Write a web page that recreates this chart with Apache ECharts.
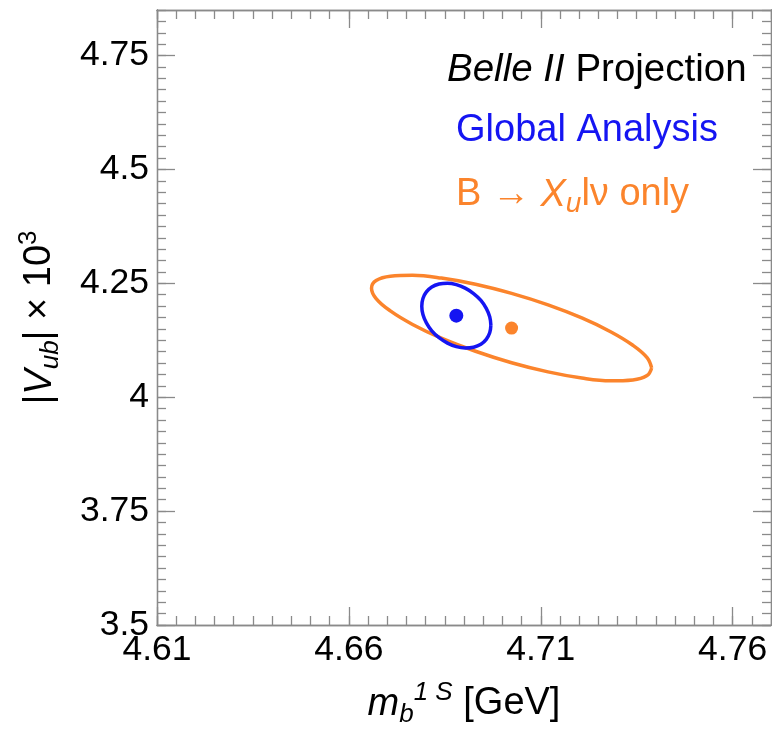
<!DOCTYPE html>
<html><head><meta charset="utf-8">
<script src="https://cdn.jsdelivr.net/npm/echarts@6/dist/echarts.min.js"></script>
<style>html,body{margin:0;padding:0;background:#fff}#c{width:772px;height:734px}</style>
</head><body><div id="c"></div>
<script>
// ---- data ----
const xRange = [4.61, 4.77];
const yRange = [3.5, 4.85];
const xTicks = [4.61, 4.66, 4.71, 4.76];
const yTicks = [3.5, 3.75, 4.0, 4.25, 4.5, 4.75];
const xMinorStep = 0.005;
const yMinorStep = 0.025;

const globalCenter = [4.6880, 4.1791];
const xulvCenter = [4.7024, 4.1518];

const globalContourX = [4.6970,4.6967,4.6958,4.6944,4.6925,4.6903,4.6880,4.6857,4.6835,4.6816,4.6802,4.6793,4.6790,4.6793,4.6802,4.6816,4.6835,4.6857,4.6880,4.6903,4.6925,4.6944,4.6958,4.6967];
const globalContourY = [4.1583,4.1414,4.1271,4.1163,4.1098,4.1080,4.1111,4.1188,4.1306,4.1457,4.1631,4.1816,4.1999,4.2168,4.2311,4.2419,4.2484,4.2502,4.2471,4.2394,4.2276,4.2125,4.1951,4.1766];

const xulvContourX = [4.7389,4.7377,4.7340,4.7282,4.7207,4.7119,4.7024,4.6930,4.6841,4.6766,4.6708,4.6671,4.6659,4.6671,4.6708,4.6766,4.6841,4.6930,4.7024,4.7119,4.7207,4.7282,4.7340,4.7377];
const xulvContourY = [4.0643,4.0476,4.0380,4.0361,4.0421,4.0556,4.0757,4.1009,4.1296,4.1598,4.1895,4.2166,4.2393,4.2560,4.2656,4.2675,4.2615,4.2480,4.2279,4.2027,4.1740,4.1438,4.1141,4.0870];

const BLUE = '#1515f2';
const ORANGE = '#fb842c';
const FRAME = '#8a8a8a';
const FONT = 'Liberation Sans';

function stepValues(lo, hi, step) {
  const out = [];
  const n = Math.round((hi - lo) / step);
  for (let i = 0; i <= n; i++) out.push(+(lo + i * step).toFixed(4));
  return out;
}
const xMinor = stepValues(xRange[0], xRange[1], xMinorStep);
const yMinor = stepValues(yRange[0], yRange[1], yMinorStep);

function closed(xs, ys) {
  const d = xs.map((x, i) => [x, ys[i]]);
  d.push(d[0]);
  return d;
}

function axis(kind, position, ticks, len, withLabel, extra) {
  const range = kind === 'x' ? xRange : yRange;
  const a = {
    type: 'value', position: position, min: range[0], max: range[1],
    axisLine: { show: true, onZero: false, lineStyle: { color: FRAME, width: 1.3 } },
    axisTick: { show: true, inside: true, length: len, customValues: ticks, lineStyle: { color: FRAME, width: 1.3 } },
    axisLabel: withLabel ? {
      show: true, customValues: ticks, color: '#000', fontFamily: FONT, fontSize: 35.5,
      margin: kind === 'x' ? 7 : 8,
      formatter: v => String(+v.toFixed(2))
    } : { show: false },
    splitLine: { show: false }, minorTick: { show: false }, minorSplitLine: { show: false }
  };
  return Object.assign(a, extra || {});
}

const sub = { fontSize: 26, fontStyle: 'italic', fontFamily: FONT, lineHeight: 24, verticalAlign: 'bottom' };
const sup = { fontSize: 26, fontStyle: 'italic', fontFamily: FONT, lineHeight: 24, verticalAlign: 'top' };
const it = { fontSize: 38, fontStyle: 'italic', fontFamily: FONT, lineHeight: 48 };
const nrm = { fontSize: 38, fontFamily: FONT, lineHeight: 48 };

const xName = {
  name: '{i|m}{sub|b}{sup|1 S}{n| [GeV]}', nameLocation: 'middle', nameGap: 55,
  nameTextStyle: { color: '#000', fontFamily: FONT, fontSize: 38, rich: { i: it, sub: sub, sup: sup, n: nrm } }
};
const yName = {
  name: '{n||}{i|V}{sub|ub}{n|| × 10}{sup|3}', nameLocation: 'middle', nameRotate: 90, nameGap: 93,
  nameTextStyle: { color: '#000', fontFamily: FONT, fontSize: 38, rich: { i: it, sub: sub, sup: { fontSize: 26, fontFamily: FONT, lineHeight: 24, verticalAlign: 'top' }, n: nrm } }
};

const chart = echarts.init(document.getElementById('c'), null, { renderer: 'canvas' });
chart.setOption({
  animation: false,
  backgroundColor: '#fff',
  grid: { left: 157, right: 1, top: 10, bottom: 109, containLabel: false },
  xAxis: [
    axis('x', 'bottom', xTicks, 18, true, xName),
    axis('x', 'bottom', xMinor, 9, false),
    axis('x', 'top', xTicks, 18, false),
    axis('x', 'top', xMinor, 9, false)
  ],
  yAxis: [
    axis('y', 'left', yTicks, 18, true, yName),
    axis('y', 'left', yMinor, 9, false),
    axis('y', 'right', yTicks, 18, false),
    axis('y', 'right', yMinor, 9, false)
  ],
  series: [
    { type: 'line', name: 'B → Xu l ν only contour', data: closed(xulvContourX, xulvContourY), smooth: 0.4,
      showSymbol: false, symbol: 'none', lineStyle: { color: ORANGE, width: 3.5 }, z: 2 },
    { type: 'line', name: 'Global Analysis contour', data: closed(globalContourX, globalContourY), smooth: 0.4,
      showSymbol: false, symbol: 'none', lineStyle: { color: BLUE, width: 3.5 }, z: 3 },
    { type: 'scatter', name: 'Global Analysis', data: [globalCenter], symbolSize: 14,
      itemStyle: { color: BLUE, opacity: 1 }, z: 4 },
    { type: 'scatter', name: 'B → Xu l ν only', data: [xulvCenter], symbolSize: 13,
      itemStyle: { color: ORANGE, opacity: 1 }, z: 4 }
  ],
  graphic: [
    { type: 'text', x: 447, y: 70, style: {
        text: '{i|Belle II}{n| Projection}', fill: '#000', verticalAlign: 'middle',
        font: '38px ' + FONT,
        rich: { i: { fontSize: 38.5, fontStyle: 'italic', fontFamily: FONT, lineHeight: 46 },
                n: { fontSize: 38.5, fontFamily: FONT, lineHeight: 46 } } } },
    { type: 'text', x: 456, y: 131, style: {
        text: 'Global Analysis', fill: BLUE, verticalAlign: 'middle', font: '38px ' + FONT } },
    { type: 'text', x: 456, y: 195, style: {
        text: '{n|B → }{i|X}{sub|u}{n|lν only}', fill: ORANGE, verticalAlign: 'middle',
        font: '38px ' + FONT,
        rich: { i: { fontSize: 38, fontStyle: 'italic', fontFamily: FONT, lineHeight: 46 },
                sub: { fontSize: 28, fontStyle: 'italic', fontFamily: FONT, lineHeight: 26, verticalAlign: 'bottom' },
                n: { fontSize: 38, fontFamily: FONT, lineHeight: 46 } } } }
  ]
});
</script></body></html>
